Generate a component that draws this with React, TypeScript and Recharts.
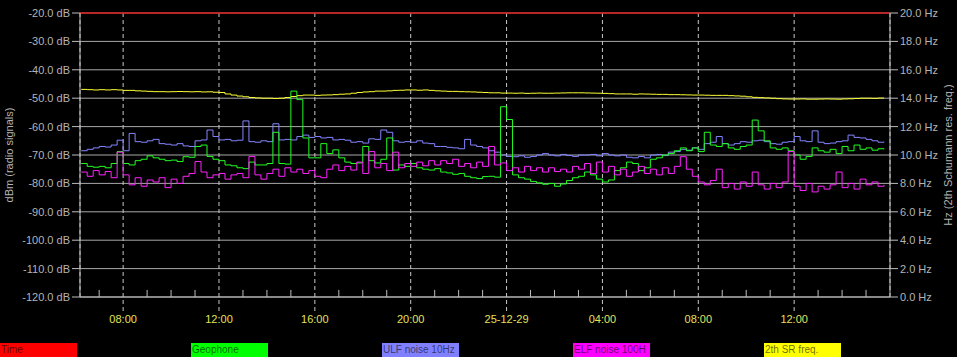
import {
  CartesianGrid,
  Legend,
  Line,
  LineChart,
  ReferenceLine,
  XAxis,
  YAxis,
} from "recharts";

// hours since 00:00 of the first day, one sample every 15 min
const START_HOUR = 6.25;
const STEP_HOURS = 0.25;

const majorTicks = [8, 12, 16, 20, 24, 28, 32, 36];
const majorLabels = ["08:00", "12:00", "16:00", "20:00", "25-12-29", "04:00", "08:00", "12:00"];
const minorTicks = [
  7, 9, 10, 11, 13, 14, 15, 17, 18, 19, 21, 22, 23, 25, 26, 27, 29, 30, 31, 33, 34, 35, 37, 38, 39,
];
const dbTicks = [-120, -110, -100, -90, -80, -70, -60, -50, -40, -30, -20];
const hzTicks = [0, 2, 4, 6, 8, 10, 12, 14, 16, 18, 20];

// ULF noise 10Hz (dBm)
const ulf = [
  -68.5, -68, -67.5, -67, -67.2, -66.5, -64.8, -68.5, -62.4, -65.3,
  -65.5, -65, -64.5, -66, -66.2, -66.5, -66, -66.8, -67, -65,
  -64.7, -61.2, -63.5, -64.7, -64.5, -65, -64.8, -58, -65.3, -65.5,
  -65, -65.3, -59, -64.7, -64.5, -64.7, -63.5, -63, -63.8, -63.5,
  -64, -63.8, -64.7, -64.5, -64.8, -65.5, -65.3, -65.8, -64.3, -64.5,
  -61.2, -62, -65, -65.5, -65.3, -65.5, -65, -65.8, -66, -67,
  -67, -67.3, -67.5, -67.8, -64.5, -66.5, -67, -67.5, -68.5, -69,
  -70, -70.5, -70.6, -70.3, -70.8, -70.5, -70, -69.5, -70, -70.3,
  -69.8, -70.2, -70.5, -70, -70, -69.8, -70.3, -69.5, -70, -70.3,
  -70, -70.8, -71, -70.5, -71, -70, -69.8, -70.2, -69, -68.8,
  -68, -68.3, -67.5, -68, -66, -65.5, -63.5, -66, -66.5, -66,
  -65.3, -65.5, -65, -64.8, -65.3, -66, -66.2, -65.5, -65.3, -63.5,
  -65, -65.3, -61.5, -65.5, -66, -65.8, -65.3, -65, -63, -63.8,
  -64, -64.5, -65, -65.5, -65.3,
];

// Geophone (dBm)
const geophone = [
  -73, -74, -74.3, -74, -74.5, -73, -68.8, -73, -73.5, -72,
  -71.5, -70.3, -71, -71.5, -72, -71.8, -72.3, -70.6, -70.8, -67,
  -66.5, -70.5, -71.5, -72, -73.5, -73.8, -74.5, -74.8, -72.5, -73.5,
  -73.5, -73, -62, -73, -73.2, -47.5, -50.5, -64, -71, -71,
  -66, -69.5, -68.2, -71, -72.5, -73, -72.8, -67, -72, -72.8,
  -71.5, -64, -75.3, -73.5, -74, -73, -74.5, -75, -75.3, -74.8,
  -76, -76.3, -76.8, -76.5, -77.5, -78, -78.3, -77.6, -77.5, -77.8,
  -53, -57.5, -77, -78, -78.5, -79.3, -79.8, -80.3, -80, -81,
  -80.2, -79, -78, -77.5, -76, -77, -78.5, -79.5, -78.8, -75.5,
  -74.5, -72.5, -73, -75.5, -74.5, -71.5, -71, -70, -69.5, -68.5,
  -67.5, -68.5, -67.5, -68.8, -62, -66.5, -67, -66, -67.5, -68,
  -67, -66.5, -57.7, -61.5, -65, -67.5, -68, -67.5, -68.5, -70,
  -71.5, -70.5, -67.5, -68.5, -69, -68, -69.5, -67, -68.5, -66.5,
  -68, -67.5, -68.3, -67.8, -68,
];

// ELF noise 100Hz (dBm)
const elf = [
  -76, -77.5, -75.5, -77, -75.8, -78, -69, -77, -80.5, -78,
  -81, -78.8, -79.5, -78, -81.5, -78.5, -80, -77.5, -76.5, -72.3,
  -76, -78, -77, -76.5, -78.5, -77, -76.5, -78, -70.5, -77,
  -78.5, -76.5, -75, -77.5, -74.5, -76, -75, -76.5, -75.5, -77.5,
  -78, -75, -73.5, -75.5, -74, -75.3, -72.5, -76.5, -68.8, -74.5,
  -73, -75.5, -69, -74.5, -73, -74, -72.5, -73.8, -72, -73.5,
  -72, -73, -71.5, -74, -73, -74.5, -72.5, -74, -67, -73.5,
  -72.8, -75.5, -74.5, -76, -74, -75.5, -74.5, -76, -74.5, -75.8,
  -75, -76, -74, -75, -73, -76.5, -72.5, -76, -74, -77,
  -75, -77.5, -76, -74, -76.5, -75, -77, -74.5, -76.5, -74,
  -70.6, -75, -77.5, -79.5, -80.5, -79, -75, -81.5, -80, -82,
  -79.5, -81, -76, -80.5, -82, -80, -81.5, -79.5, -68.8, -81,
  -82.5, -80, -83, -81, -82, -80.5, -76, -81.5, -80, -82,
  -78.5, -80.5, -79.5, -81, -80.5,
];

// 2th SR freq. (Hz, right axis)
const srFreq = [
  14.62, 14.6, 14.58, 14.6, 14.58, 14.6, 14.58, 14.55, 14.55, 14.52,
  14.5, 14.48, 14.46, 14.46, 14.45, 14.46, 14.47, 14.46, 14.45, 14.46,
  14.44, 14.45, 14.42, 14.4, 14.3, 14.22, 14.15, 14.1, 14.05, 14.02,
  14.0, 14.0, 13.98, 14.0, 14.05, 14.12, 14.18, 14.22, 14.22, 14.2,
  14.22, 14.23, 14.25, 14.28, 14.3, 14.35, 14.4, 14.44, 14.46, 14.5,
  14.5, 14.52, 14.55, 14.56, 14.58, 14.58, 14.56, 14.58, 14.55, 14.52,
  14.5, 14.48, 14.48, 14.46, 14.45, 14.44, 14.42, 14.4, 14.38, 14.38,
  14.36, 14.36, 14.35, 14.36, 14.34, 14.35, 14.36, 14.35, 14.35, 14.36,
  14.37, 14.38, 14.38, 14.38, 14.37, 14.36, 14.35, 14.34, 14.32, 14.3,
  14.3, 14.3, 14.28, 14.3, 14.29, 14.28, 14.27, 14.27, 14.25, 14.25,
  14.24, 14.23, 14.22, 14.22, 14.21, 14.2, 14.2, 14.2, 14.18, 14.16,
  14.14, 14.1, 14.06, 14.04, 14.02, 14.0, 13.97, 13.95, 13.94, 13.94,
  13.95, 13.93, 13.93, 13.94, 13.95, 13.94, 13.93, 13.95, 13.96, 13.98,
  14.0, 14.0, 13.99, 14.01, 14.0,
];

const legendNames = ["Time", "Geophone", "ULF noise 10Hz", "ELF noise 100H", "2th SR freq."];
const legendColors = ["#ff0000", "#00ff00", "#8080ff", "#ff00ff", "#ffff00"];

const rows = ulf.map((v, i) => ({
  t: START_HOUR + i * STEP_HOURS,
  ulf: v,
  geophone: geophone[i],
  elf: elf[i],
  sr: srFreq[i],
}));

const AXIS = "#bdbdbd";
const GRID = "#a8a8a8";
const TEXT = "#b4b4b4";

function LegendBar() {
  return (
    <div style={{ position: "relative", width: 957, height: 14 }}>
      {legendNames.map((name, i) => (
        <div
          key={name}
          style={{
            position: "absolute",
            left: i * 191,
            top: 0,
            width: 77,
            height: 14,
            background: legendColors[i],
            color: "rgba(0,0,0,0.6)",
            fontSize: 10,
            lineHeight: "14px",
            paddingLeft: 1,
            boxSizing: "border-box",
            whiteSpace: "nowrap",
          }}
        >
          {name}
        </div>
      ))}
    </div>
  );
}

export default function App() {
  return (
    <div
      style={{
        position: "absolute",
        left: 0,
        top: 0,
        width: 957,
        height: 357,
        background: "#000",
        fontFamily: '"Liberation Sans", Arial, sans-serif',
      }}
    >
      <LineChart
        width={957}
        height={357}
        data={rows}
        margin={{ top: 13, right: 0, bottom: 0, left: 0 }}
      >
        <CartesianGrid yAxisId="db" vertical={false} stroke={GRID} />
        <CartesianGrid yAxisId="db" horizontal={false} stroke="#c8c8c8" strokeDasharray="4 3" />
        <XAxis
          dataKey="t"
          type="number"
          domain={[6.2, 40]}
          allowDataOverflow
          ticks={majorTicks}
          tickFormatter={(v: number) => majorLabels[majorTicks.indexOf(v)] ?? ""}
          height={46}
          axisLine={{ stroke: AXIS }}
          tickLine={{ stroke: "#c8c8c8", strokeDasharray: "4 3" }}
          tickSize={14}
          tickMargin={4}
          tick={{ fill: "#e2e25c", fontSize: 11 }}
        />
        <YAxis
          yAxisId="db"
          domain={[-120, -20]}
          ticks={dbTicks}
          allowDataOverflow
          width={80}
          axisLine={{ stroke: AXIS }}
          tickLine={{ stroke: AXIS }}
          tickSize={8}
          tickMargin={2}
          tick={{ fill: TEXT, fontSize: 11 }}
          tickFormatter={(v: number) => `${v.toFixed(1)} dB`}
          label={{
            value: "dBm (radio signals)",
            angle: -90,
            position: "insideLeft",
            offset: 9,
            fill: TEXT,
            fontSize: 11,
            style: { textAnchor: "middle" },
          }}
        />
        <YAxis
          yAxisId="hz"
          orientation="right"
          domain={[0, 20]}
          ticks={hzTicks}
          allowDataOverflow
          width={67}
          axisLine={{ stroke: AXIS }}
          tickLine={{ stroke: AXIS }}
          tickSize={8}
          tickMargin={2}
          tick={{ fill: TEXT, fontSize: 11 }}
          tickFormatter={(v: number) => `${v.toFixed(1)} Hz`}
          label={{
            value: "Hz (2th Schumann res. freq.)",
            angle: -90,
            position: "insideRight",
            offset: 9,
            fill: TEXT,
            fontSize: 11,
            style: { textAnchor: "middle" },
          }}
        />
        <ReferenceLine yAxisId="db" y={-20} stroke="#d81818" strokeWidth={1.5} />
        {minorTicks.map((h) => (
          <ReferenceLine
            key={h}
            yAxisId="db"
            segment={[
              { x: h, y: -120 },
              { x: h, y: -117.5 },
            ]}
            stroke={AXIS}
          />
        ))}
        <Line
          yAxisId="hz"
          dataKey="sr"
          name="2th SR freq."
          type="stepAfter"
          stroke="#ffff33"
          strokeWidth={1}
          dot={false}
          isAnimationActive={false}
        />
        <Line
          yAxisId="db"
          dataKey="ulf"
          name="ULF noise 10Hz"
          type="stepAfter"
          stroke="#8484ff"
          strokeWidth={1}
          dot={false}
          isAnimationActive={false}
        />
        <Line
          yAxisId="db"
          dataKey="geophone"
          name="Geophone"
          type="stepAfter"
          stroke="#22ff22"
          strokeWidth={1}
          dot={false}
          isAnimationActive={false}
        />
        <Line
          yAxisId="db"
          dataKey="elf"
          name="ELF noise 100H"
          type="stepAfter"
          stroke="#ff22ff"
          strokeWidth={1}
          dot={false}
          isAnimationActive={false}
        />
        <Legend
          verticalAlign="bottom"
          align="left"
          height={14}
          wrapperStyle={{ left: 0, bottom: 0, width: 957 }}
          content={() => <LegendBar />}
        />
      </LineChart>
    </div>
  );
}
